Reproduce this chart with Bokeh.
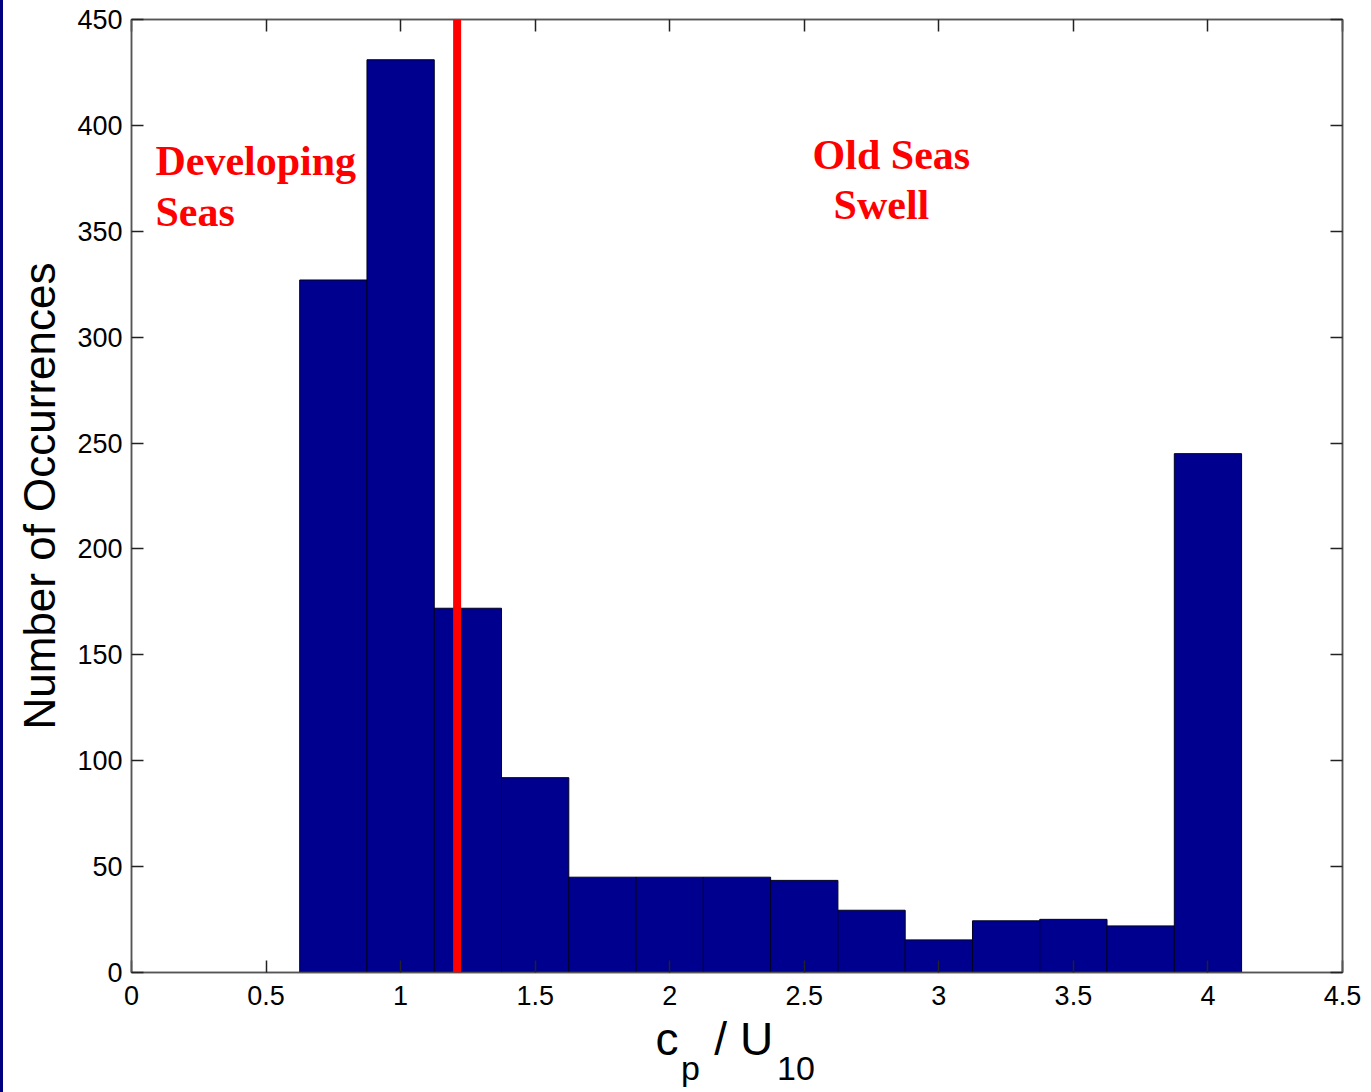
from bokeh.plotting import figure
from bokeh.models import LinearAxis, FixedTicker, Span, Label, Div
from bokeh.layouts import row
from bokeh.embed import file_html
from bokeh.resources import INLINE

# ---- data ----
bin_centers = [0.75, 1.0, 1.25, 1.5, 1.75, 2.0, 2.25, 2.5, 2.75, 3.0, 3.25, 3.5, 3.75, 4.0]
counts = [327, 431, 172, 92, 45, 45, 45, 43.5, 29.4, 15.4, 24.4, 25.1, 22, 245]
bin_width = 0.25
x_ticks = [0, 0.5, 1, 1.5, 2, 2.5, 3, 3.5, 4, 4.5]
x_tick_labels = ["0", "0.5", "1", "1.5", "2", "2.5", "3", "3.5", "4", "4.5"]
y_ticks = [0, 50, 100, 150, 200, 250, 300, 350, 400, 450]
y_tick_labels = ["0", "50", "100", "150", "200", "250", "300", "350", "400", "450"]
divider_x = 1.21
y_title = "Number of Occurrences"
x_title_main = ["c", "/ U"]
x_title_sub = ["p", "10"]

SANS = "Liberation Sans"
SERIF = "Liberation Serif"

p = figure(width=1368, height=1092, x_range=(0, 4.5), y_range=(0, 450),
           output_backend="svg", toolbar_location=None,
           min_border_left=128, min_border_right=29, min_border_top=19,
           min_border_bottom=120, background_fill_color="white",
           border_fill_color="white", margin=0)
p.grid.visible = False
p.outline_line_color = "#555555"
p.outline_line_width = 1.5

p.vbar(x=bin_centers, top=counts, width=bin_width, bottom=0,
       fill_color="#00008F", line_color="#000020", line_width=1)

p.add_layout(Span(location=divider_x, dimension="height", line_color="#FF0000",
                  line_width=8))

def style_axis(ax, show_labels, standoff):
    ax.axis_line_color = "#555555"
    ax.axis_line_width = 1.5
    ax.major_tick_in = 12
    ax.major_tick_out = 0
    ax.minor_tick_in = 0
    ax.minor_tick_out = 0
    ax.major_tick_line_color = "#222222"
    ax.major_tick_line_width = 1.5
    ax.major_label_text_font = SANS
    ax.major_label_text_color = "black"
    ax.major_label_standoff = standoff
    ax.major_label_text_font_size = "27px" if show_labels else "0px"

xa = p.xaxis[0]
ya = p.yaxis[0]
xa.ticker = FixedTicker(ticks=x_ticks)
ya.ticker = FixedTicker(ticks=y_ticks)
xa.major_label_overrides = dict(zip(x_ticks, x_tick_labels))
ya.major_label_overrides = dict(zip(y_ticks, y_tick_labels))
style_axis(xa, True, 13)
style_axis(ya, True, 9)

ya.axis_label = y_title
ya.axis_label_text_font = SANS
ya.axis_label_text_font_style = "normal"
ya.axis_label_text_font_size = "44px"
ya.axis_label_text_color = "black"
ya.axis_label_standoff = 10

top_ax = LinearAxis(ticker=FixedTicker(ticks=x_ticks))
right_ax = LinearAxis(ticker=FixedTicker(ticks=y_ticks))
style_axis(top_ax, False, 0)
style_axis(right_ax, False, 0)
top_ax.major_label_overrides = {t: "" for t in x_ticks}
right_ax.major_label_overrides = {t: "" for t in y_ticks}
p.add_layout(top_ax, "above")
p.add_layout(right_ax, "right")

# x-axis title "c_p / U_10" drawn as two extra label-only axes below
def title_axis(ticks, labels, size, standoff):
    ax = LinearAxis(ticker=FixedTicker(ticks=ticks))
    ax.major_label_overrides = dict(zip(ticks, labels))
    ax.axis_line_color = None
    ax.major_tick_line_color = None
    ax.minor_tick_line_color = None
    ax.major_tick_in = 0
    ax.major_tick_out = 0
    ax.minor_tick_in = 0
    ax.minor_tick_out = 0
    ax.major_label_text_font = SANS
    ax.major_label_text_font_size = size
    ax.major_label_text_color = "black"
    ax.major_label_standoff = standoff
    p.add_layout(ax, "below")

title_axis([1.990, 2.275], x_title_main, "46px", 5)
title_axis([2.077, 2.469], x_title_sub, "34px", -19)

def lab(x, y, t, size, font=SERIF, color="#FF0000", style="bold"):
    p.add_layout(Label(x=x, y=y, text=t, text_font=font, text_font_size=size,
                       text_color=color, text_font_style=style,
                       text_align="left", text_baseline="alphabetic"))

# annotations
lab(0.089, 383.4, "Developing", "42px")
lab(0.089, 358.9, "Seas", "42px")
lab(2.531, 386.2, "Old Seas", "42px")
lab(2.609, 362.6, "Swell", "42px")

strip = Div(width=3, height=1092, margin=0,
            styles={"background-color": "#000080"})
layout = row(strip, p, spacing=0, margin=0)

open("out.html", "w").write(file_html(layout, INLINE))
